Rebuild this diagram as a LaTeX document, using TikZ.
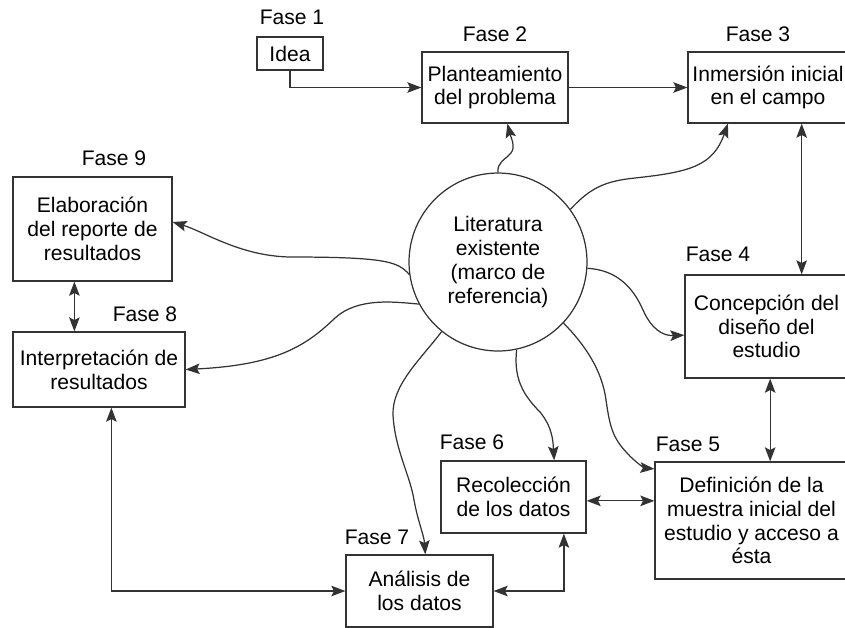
\documentclass[tikz,border=0pt]{standalone}
\usepackage{fontspec}
\setmainfont{Liberation Sans}
\usetikzlibrary{arrows.meta}
\definecolor{linea}{HTML}{333333}

\begin{document}
\begin{tikzpicture}[x=0.02cm,y=-0.02cm,
    >={Stealth[length=8pt,width=6pt,inset=1.5pt]},
    caja/.style={draw=linea,line width=0.7pt,align=center,inner sep=0pt,font=\fontsize{12}{13.5}\selectfont},
    fase/.style={font=\fontsize{12}{13.5}\selectfont},
    conector/.style={linea,line width=0.7pt}]
    \useasboundingbox (0,0) rectangle (845,627);
    \node[caja,minimum width=1.32cm,minimum height=0.66cm] (idea) at (290,53.5) {Idea};
    \node[fase] (f1) at (292,17) {Fase 1};
    \node[caja,minimum width=2.92cm,minimum height=1.42cm] (plant) at (495,87.5) {Planteamiento\\del problema};
    \node[fase] (f2) at (495,34) {Fase 2};
    \node[caja,minimum width=3.2cm,minimum height=1.42cm] (inm) at (768,87.5) {Inmersión inicial\\en el campo};
    \node[fase] (f3) at (758,34) {Fase 3};
    \node[caja,minimum width=3.26cm,minimum height=2.06cm] (conc) at (766.5,326.5) {Concepción del\\diseño del\\estudio};
    \node[fase] (f4) at (718,254) {Fase 4};
    \node[caja,minimum width=3.86cm,minimum height=2.34cm] (def) at (751.5,520.5) {Definición de la\\muestra inicial del\\estudio y acceso a\\ésta};
    \node[fase] (f5) at (688,444) {Fase 5};
    \node[caja,minimum width=2.9cm,minimum height=1.44cm] (rec) at (513.5,497) {Recolección\\de los datos};
    \node[fase] (f6) at (472,442) {Fase 6};
    \node[caja,minimum width=2.94cm,minimum height=1.44cm] (ana) at (419.5,591) {Análisis de\\los datos};
    \node[fase] (f7) at (377,537) {Fase 7};
    \node[caja,minimum width=3.44cm,minimum height=1.5cm] (interp) at (99,369.5) {Interpretación de\\resultados};
    \node[fase] (f8) at (145,314) {Fase 8};
    \node[caja,minimum width=3.18cm,minimum height=2.08cm] (elab) at (92.5,229) {Elaboración\\del reporte de\\resultados};
    \node[fase] (f9) at (114,158) {Fase 9};
    \node[caja,circle,minimum size=3.56cm] (lit) at (498,262) {Literatura\\existente\\(marco de\\referencia)};

    \draw[conector,->] (idea.south) |- (plant.west);
    \draw[conector,->] (plant.east) -- (inm.west);
    \draw[conector,<->] (inm.-47) -- (inm.-47 |- conc.north);
    \draw[conector,<->] (conc.-86) -- (conc.-86 |- def.north);
    \draw[conector,<->] (rec.-3) -- (rec.-3 -| def.west);
    \draw[conector,<->] (ana.east) -| (rec.-36);
    \draw[conector,<->] (interp.-72) |- (ana.west);
    \draw[conector,<->] (elab.-109) -- (elab.-109 |- interp.north);

    \draw[conector,->] (lit.90) .. controls (497,162) and (505,160) .. (511,153) .. controls (516,146) and (511,138) .. (plant.-71);
    \draw[conector,->] (lit.36) .. controls (590,188) and (605,181) .. (635,178) .. controls (690,172) and (713,166) .. (inm.-138);
    \draw[conector,->] (lit.-172) .. controls (398,262) and (388,257) .. (290,257) .. controls (240,256) and (205,232) .. (elab.5);
    \draw[conector,->] (lit.-152) .. controls (395,302) and (358,297) .. (335,318) .. controls (305,347) and (275,365) .. (interp.east);
    \draw[conector,->] (lit.-129) .. controls (420,360) and (392,385) .. (393,415) .. controls (395,450) and (410,475) .. (414,500) .. controls (418,522) and (424,535) .. (ana.81);
    \draw[conector,->] (lit.-78) .. controls (514,375) and (520,392) .. (540,412) .. controls (553,428) and (553,442) .. (rec.42);
    \draw[conector,->] (lit.-43) .. controls (585,345) and (602,370) .. (606,400) .. controls (610,428) and (613,438) .. (627,453) .. controls (636,463) and (645,468) .. (def.152);
    \draw[conector,->] (lit.-4) .. controls (615,270) and (632,285) .. (643,310) .. controls (651,328) and (662,336) .. (conc.-174);
\end{tikzpicture}
\end{document}
